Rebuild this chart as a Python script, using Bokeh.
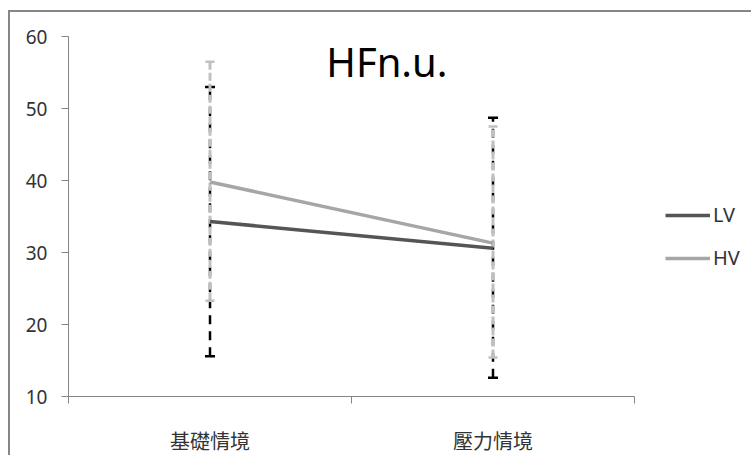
from bokeh.plotting import figure
from bokeh.models import (ColumnDataSource, Whisker, TeeHead, FixedTicker, Legend,
                          LegendItem, Label, Range1d)
from bokeh.embed import file_html
from bokeh.resources import INLINE

categories = ["基礎情境", "壓力情境"]
lv_mean = [34.3, 30.6]
hv_mean = [39.8, 31.3]
lv_upper = [53.0, 48.7]
lv_lower = [15.6, 12.6]
hv_upper = [56.5, 47.5]
hv_lower = [23.3, 15.4]
y_ticks = [10, 20, 30, 40, 50, 60]
series_names = ["LV", "HV"]
title_text = "HFn.u."

n = len(categories)
x = [i + 0.5 for i in range(n)]
bounds = [float(i) for i in range(n + 1)]

src = ColumnDataSource(dict(x=x, lv=lv_mean, hv=hv_mean, lv_up=lv_upper, lv_lo=lv_lower,
                            hv_up=hv_upper, hv_lo=hv_lower))

W, H = 743, 445
BL, BR, BT, BB = 58, 5, 24, 59
axis_px = 566  # pixel length of the category axis
frame_w = W - BL - BR
x_end = n * frame_w / axis_px

p = figure(width=W, height=H, output_backend="svg", toolbar_location=None,
           x_range=Range1d(0, x_end), y_range=Range1d(y_ticks[0], y_ticks[-1]),
           min_border_left=BL, min_border_right=BR, min_border_top=BT, min_border_bottom=BB)
p.styles = {"border-top": "2px solid #868686", "border-left": "2px solid #868686",
            "margin-top": "10px", "margin-left": "8px"}
p.outline_line_color = None
p.xgrid.visible = False
p.ygrid.visible = False
p.background_fill_color = "white"
p.border_fill_color = "white"

axis_col = "#868686"
# y axis
p.yaxis.ticker = FixedTicker(ticks=y_ticks)
p.yaxis.axis_line_color = axis_col
p.yaxis.major_tick_line_color = axis_col
p.yaxis.major_tick_out = 7
p.yaxis.major_tick_in = 0
p.yaxis.minor_tick_line_color = None
p.yaxis.major_label_standoff = 14
p.yaxis.major_label_text_font = "Noto Sans"
p.yaxis.major_label_text_font_size = "19px"
p.yaxis.major_label_text_color = "#333333"

# x axis
p.xaxis.bounds = (0, n)
p.xaxis.ticker = FixedTicker(ticks=x, minor_ticks=bounds)
p.xaxis.major_label_overrides = {xi: c for xi, c in zip(x, categories)}
p.xaxis.axis_line_color = axis_col
p.xaxis.major_tick_line_color = None
p.xaxis.major_tick_out = 0
p.xaxis.major_tick_in = 0
p.xaxis.minor_tick_line_color = axis_col
p.xaxis.minor_tick_out = 7
p.xaxis.minor_tick_in = 0
p.xaxis.major_label_standoff = 22
p.xaxis.major_label_text_font = "Noto Sans CJK TC"
p.xaxis.major_label_text_font_size = "20px"
p.xaxis.major_label_text_color = "#333333"

# error bars
w_lv = Whisker(source=src, base="x", upper="lv_up", lower="lv_lo",
               line_color="black", line_width=2.5, line_dash="9 7",
               upper_head=TeeHead(size=10, line_color="black", line_width=2.5),
               lower_head=TeeHead(size=10, line_color="black", line_width=2.5))
w_hv = Whisker(source=src, base="x", upper="hv_up", lower="hv_lo",
               line_color="#C0C0C0", line_width=3, line_dash="8 3",
               upper_head=TeeHead(size=9, line_color="#C0C0C0", line_width=2.5),
               lower_head=TeeHead(size=9, line_color="#C0C0C0", line_width=2.5))
p.add_layout(w_lv)
p.add_layout(w_hv)

lv_line = p.line("x", "lv", source=src, line_color="#555555", line_width=3.5)
hv_line = p.line("x", "hv", source=src, line_color="#A6A6A6", line_width=3.5)

legend = Legend(items=[LegendItem(label=series_names[0], renderers=[lv_line]),
                       LegendItem(label=series_names[1], renderers=[hv_line])],
                location=(597, 125), glyph_width=45, glyph_height=20, label_standoff=3,
                spacing=16, padding=0, margin=0, border_line_color=None,
                background_fill_alpha=0, label_text_font="Noto Sans",
                label_text_font_size="20px", label_text_color="#333333")
p.add_layout(legend)

p.add_layout(Label(x=1.125, y=56.5, text=title_text, text_align="center",
                   text_baseline="alphabetic", text_font="Noto Sans",
                   text_font_size="40px", text_color="black"))

open("out.html", "w").write(file_html(p, INLINE))
